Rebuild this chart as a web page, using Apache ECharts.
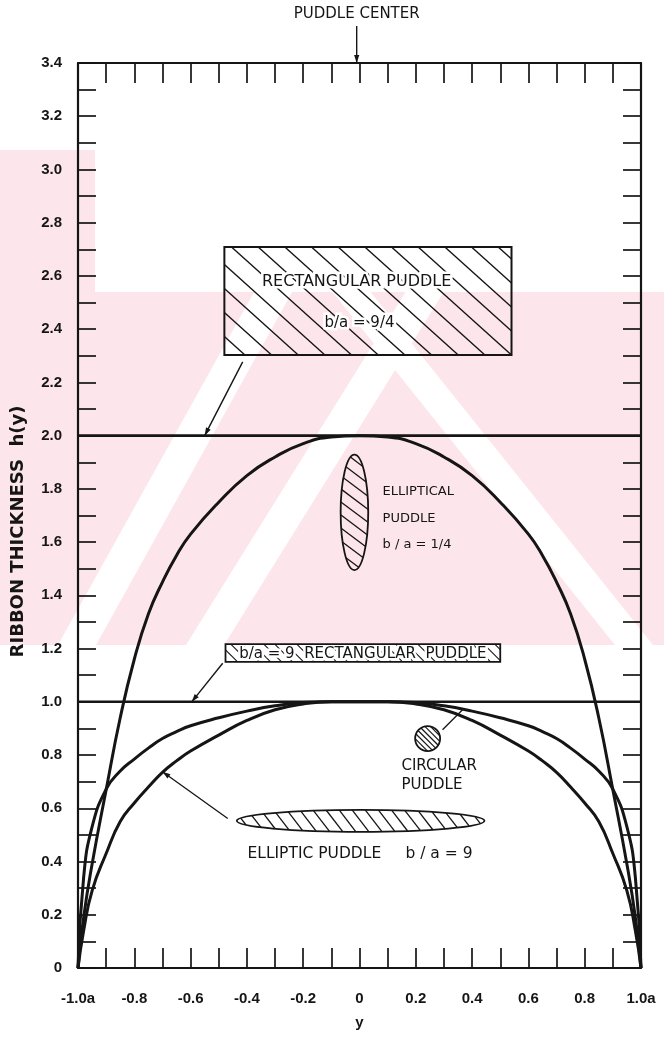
<!DOCTYPE html>
<html>
<head>
<meta charset="utf-8">
<title>Ribbon thickness profiles</title>
<script src="https://cdn.jsdelivr.net/npm/echarts@6.0.0/dist/echarts.min.js"></script>
<style>
  html, body { margin: 0; padding: 0; background: #ffffff; }
  #chart { width: 664px; height: 1056px; }
</style>
</head>
<body>
<div id="chart"></div>
<script>
// Printed tick positions and their labels
const xTickValues = [-1.0, -0.8, -0.6, -0.4, -0.2, 0, 0.2, 0.4, 0.6, 0.8, 1.0];
const xTickLabels = ['-1.0a', '-0.8', '-0.6', '-0.4', '-0.2', '0', '0.2', '0.4', '0.6', '0.8', '1.0a'];
const yTickValues = [0, 0.2, 0.4, 0.6, 0.8, 1.0, 1.2, 1.4, 1.6, 1.8, 2.0, 2.2, 2.4, 2.6, 2.8, 3.0, 3.2, 3.4];
const yTickLabels = ['0', '0.2', '0.4', '0.6', '0.8', '1.0', '1.2', '1.4', '1.6', '1.8', '2.0', '2.2', '2.4', '2.6', '2.8', '3.0', '3.2', '3.4'];

// Position across the ribbon (in units of a)
const yPositions = [-1.0, -0.98, -0.95, -0.9, -0.85, -0.8, -0.75, -0.7, -0.65, -0.6, -0.5, -0.4, -0.3, -0.2, -0.1, 0,
                    0.1, 0.2, 0.3, 0.4, 0.5, 0.6, 0.65, 0.7, 0.75, 0.8, 0.85, 0.9, 0.95, 0.98, 1.0];
// Ribbon thickness h(y) for each puddle shape
const hEllipticalQuarter = [0, 0.19, 0.39, 0.67, 0.94, 1.16, 1.33, 1.45, 1.55, 1.63, 1.75, 1.85, 1.92, 1.97, 1.995, 2.0,
                            1.995, 1.97, 1.92, 1.85, 1.75, 1.63, 1.55, 1.45, 1.33, 1.16, 0.94, 0.67, 0.39, 0.19, 0];
const hCircular = [0, 0.34, 0.53, 0.672, 0.74, 0.785, 0.826, 0.862, 0.888, 0.91, 0.94, 0.965, 0.985, 0.997, 1.0, 1.0,
                   1.0, 0.997, 0.985, 0.965, 0.94, 0.91, 0.888, 0.862, 0.826, 0.785, 0.74, 0.672, 0.53, 0.34, 0];
const hEllipticNine = [0, 0.14, 0.29, 0.43, 0.55, 0.62, 0.68, 0.735, 0.778, 0.815, 0.875, 0.93, 0.97, 0.992, 1.0, 1.0,
                       1.0, 0.992, 0.97, 0.93, 0.875, 0.815, 0.778, 0.735, 0.68, 0.62, 0.55, 0.43, 0.29, 0.14, 0];
// Rectangular puddles give a flat profile across the whole width
const rectSpan = [-1.0, 1.0];
const hRectNineQuarters = [2.0, 2.0];
const hRectNine = [1.0, 1.0];

const INK = '#151515';
const WATERMARK = '#fde6eb';
const LETTER_FONT = '"DejaVu Sans", sans-serif';
const NUM_FONT = '"Liberation Sans", "DejaVu Sans Condensed", sans-serif';

function labelFor(values, labels, v) {
  for (let i = 0; i < values.length; i++) {
    if (Math.abs(values[i] - v) < 1e-6) return labels[i];
  }
  return '';
}

function pairs(xs, ys) { return xs.map((x, i) => [x, ys[i]]); }

// Diagonal hatch lines y = k*x + c clipped to a rectangle (screen coordinates)
function hatchRect(L, T, R, B, k, step, width) {
  const out = [];
  const cMin = T - k * R, cMax = B - k * L;
  for (let c = cMin + step / 2; c < cMax; c += step) {
    const xa = Math.max(L, (T - c) / k), xb = Math.min(R, (B - c) / k);
    if (xb - xa > 0.5) {
      out.push({ type: 'line', shape: { x1: xa, y1: k * xa + c, x2: xb, y2: k * xb + c },
                 style: { stroke: INK, lineWidth: width } });
    }
  }
  return out;
}

// Diagonal hatch lines clipped to an ellipse (screen coordinates)
function hatchEllipse(cx, cy, rx, ry, k, step, width) {
  const out = [];
  const D = Math.sqrt(ry * ry + k * k * rx * rx);
  const A = 1 / (rx * rx) + k * k / (ry * ry);
  for (let d = -D + step / 2; d < D; d += step) {
    const Bq = 2 * k * d / (ry * ry), Cq = d * d / (ry * ry) - 1;
    const disc = Bq * Bq - 4 * A * Cq;
    if (disc <= 0) continue;
    const s = Math.sqrt(disc);
    const u1 = (-Bq - s) / (2 * A), u2 = (-Bq + s) / (2 * A);
    out.push({ type: 'line',
      shape: { x1: cx + u1, y1: cy + k * u1 + d, x2: cx + u2, y2: cy + k * u2 + d },
      style: { stroke: INK, lineWidth: width } });
  }
  return out;
}

// Text with a white halo so hatching breaks around the letters
function haloText(text, p, align, size) {
  const font = (size || 14) + 'px ' + LETTER_FONT;
  return [
    { type: 'text', x: p[0], y: p[1], style: { text, font, fill: '#fff', stroke: '#fff', lineWidth: 5,
      align: align, verticalAlign: 'middle' } },
    { type: 'text', x: p[0], y: p[1], style: { text, font, fill: INK, align: align, verticalAlign: 'middle' } }
  ];
}

function plainText(text, p, align, size, weight) {
  return { type: 'text', x: p[0], y: p[1],
    style: { text, font: (weight ? weight + ' ' : '') + (size || 14) + 'px ' + LETTER_FONT, fill: INK,
             align: align || 'left', verticalAlign: 'middle' } };
}

// Leader line, optionally ending in a small filled arrowhead at p2
function leader(p1, p2, width, head) {
  const dx = p2[0] - p1[0], dy = p2[1] - p1[1];
  const len = Math.sqrt(dx * dx + dy * dy);
  const ux = dx / len, uy = dy / len;
  const hl = 8, hw = 2.6;
  const bx = p2[0] - ux * hl, by = p2[1] - uy * hl;
  const parts = [
    { type: 'line', shape: { x1: p1[0], y1: p1[1], x2: p2[0], y2: p2[1] }, style: { stroke: INK, lineWidth: width || 1.4 } }
  ];
  if (head !== false) {
    parts.push({ type: 'polygon', shape: { points: [[p2[0], p2[1]], [bx - uy * hw, by + ux * hw], [bx + uy * hw, by - ux * hw]] },
      style: { fill: INK } });
  }
  return parts;
}

function annotation(render) {
  return {
    type: 'custom', xAxisIndex: 0, yAxisIndex: 0, data: [[0, 0]], silent: true, clip: false, z: 6,
    renderItem: (params, api) => ({ type: 'group', children: render(api) })
  };
}

// Pale pink watermark band behind the figure, crossed by white diagonal gaps
function watermark() {
  const top = 150, cut = 292, bottom = 645, w = 38;
  const gap = (xt, xb) => ({ type: 'polygon', silent: true,
    shape: { points: [[xt - w / 2, top], [xt + w / 2, top], [xb + w / 2, bottom], [xb - w / 2, bottom]] },
    style: { fill: '#ffffff' } });
  return {
    type: 'group', z: -10, silent: true,
    children: [
      { type: 'polygon', silent: true,
        shape: { points: [[0, top], [95, top], [95, cut], [664, cut], [664, bottom], [0, bottom]] },
        style: { fill: WATERMARK } },
      gap(352, 77), gap(513, 205), gap(238, 634),
      { type: 'rect', silent: true, shape: { x: 0, y: bottom, width: 664, height: 40 }, style: { fill: '#ffffff' } },
      { type: 'rect', silent: true, shape: { x: 95, y: top - 40, width: 569, height: cut - top + 40 }, style: { fill: '#ffffff' } }
    ]
  };
}

const chart = echarts.init(document.getElementById('chart'), null, { renderer: 'canvas' });

const tickStyle = (len) => ({ show: true, inside: true, length: len, lineStyle: { color: INK, width: 1.7 } });
const axisLineStyle = { show: true, onZero: false, lineStyle: { color: INK, width: 2.2 } };
const numLabel = { color: INK, fontFamily: NUM_FONT, fontSize: 15, fontWeight: 'bold' };

const curveStyle = { color: INK, width: 3 };

const option = {
  backgroundColor: '#ffffff',
  animation: false,
  graphic: [watermark()],
  grid: { left: 78, right: 23, top: 63, bottom: 88, containLabel: false },
  xAxis: [
    {
      type: 'value', position: 'bottom', min: -1, max: 1, interval: 0.1,
      axisLine: axisLineStyle, axisTick: tickStyle(20), splitLine: { show: false },
      axisLabel: Object.assign({ margin: 23, showMinLabel: true, showMaxLabel: true,
        formatter: v => labelFor(xTickValues, xTickLabels, v) }, numLabel),
      name: 'y', nameLocation: 'middle', nameGap: 47,
      nameTextStyle: { color: INK, fontFamily: NUM_FONT, fontSize: 15, fontWeight: 'bold' }
    },
    {
      type: 'value', position: 'top', min: -1, max: 1, interval: 0.1,
      axisLine: axisLineStyle, axisTick: tickStyle(20), splitLine: { show: false },
      axisLabel: { show: false }
    }
  ],
  yAxis: [
    {
      type: 'value', position: 'left', min: 0, max: 3.4, interval: 0.1,
      axisLine: axisLineStyle, axisTick: tickStyle(18), splitLine: { show: false },
      axisLabel: Object.assign({ margin: 16, formatter: v => labelFor(yTickValues, yTickLabels, v) }, numLabel)
    },
    {
      type: 'value', position: 'right', min: 0, max: 3.4, interval: 0.1,
      axisLine: axisLineStyle, axisTick: tickStyle(18), splitLine: { show: false },
      axisLabel: { show: false }
    }
  ],
  series: [
    { name: 'Rectangular b/a = 9/4', type: 'line', data: pairs(rectSpan, hRectNineQuarters),
      showSymbol: false, lineStyle: { color: INK, width: 2.6 }, z: 3 },
    { name: 'Rectangular b/a = 9', type: 'line', data: pairs(rectSpan, hRectNine),
      showSymbol: false, lineStyle: { color: INK, width: 2.6 }, z: 3 },
    { name: 'Elliptical b/a = 1/4', type: 'line', data: pairs(yPositions, hEllipticalQuarter),
      showSymbol: false, smooth: 0.5, lineStyle: curveStyle, z: 3 },
    { name: 'Circular', type: 'line', data: pairs(yPositions, hCircular),
      showSymbol: false, smooth: 0.5, lineStyle: curveStyle, z: 3 },
    { name: 'Elliptic b/a = 9', type: 'line', data: pairs(yPositions, hEllipticNine),
      showSymbol: false, smooth: 0.5, lineStyle: curveStyle, z: 3 },

    // Vertical axis title
    annotation(api => {
      const p = api.coord([-1, 1.64]);
      return [{ type: 'text', x: p[0] - 60, y: p[1], rotation: Math.PI / 2,
        style: { text: 'RIBBON THICKNESS  h(y)', font: 'bold 18px ' + LETTER_FONT, fill: INK,
                 align: 'center', verticalAlign: 'middle' } }];
    }),

    // Puddle centre marker above the top axis
    annotation(api => {
      const p = api.coord([-0.01, 3.4]);
      return [
        plainText('PUDDLE CENTER', [p[0], p[1] - 49], 'center', 15),
        ...leader([p[0], p[1] - 37], [p[0], p[1]], 1.4)
      ];
    }),

    // Rectangular puddle, b/a = 9/4
    annotation(api => {
      const tl = api.coord([-0.48, 2.709]), br = api.coord([0.54, 2.303]);
      return [
        ...hatchRect(tl[0], tl[1], br[0], br[1], 0.9, 24, 1.4),
        ...haloText('RECTANGULAR PUDDLE', api.coord([-0.01, 2.577]), 'center', 16),
        ...haloText('b/a = 9/4', api.coord([0.0, 2.423]), 'center', 15),
        { type: 'rect', shape: { x: tl[0], y: tl[1], width: br[0] - tl[0], height: br[1] - tl[1] },
          style: { fill: null, stroke: INK, lineWidth: 2 } },
        ...leader(api.coord([-0.415, 2.277]), api.coord([-0.55, 2.0]), 1.4)
      ];
    }),

    // Elliptical puddle, b/a = 1/4
    annotation(api => {
      const c = api.coord([-0.018, 1.712]);
      const rx = Math.abs(api.coord([0.031, 1.712])[0] - c[0]);
      const ry = Math.abs(api.coord([-0.018, 1.929])[1] - c[1]);
      return [
        ...hatchEllipse(c[0], c[1], rx, ry, 0.75, 13, 1.3),
        { type: 'ellipse', shape: { cx: c[0], cy: c[1], rx, ry }, style: { fill: null, stroke: INK, lineWidth: 1.8 } },
        plainText('ELLIPTICAL', api.coord([0.082, 1.79]), 'left', 13),
        plainText('PUDDLE', api.coord([0.082, 1.69]), 'left', 13),
        plainText('b / a = 1/4', api.coord([0.082, 1.592]), 'left', 13)
      ];
    }),

    // Rectangular puddle, b/a = 9
    annotation(api => {
      const tl = api.coord([-0.476, 1.217]), br = api.coord([0.50, 1.15]);
      return [
        ...hatchRect(tl[0], tl[1], br[0], br[1], 1.0, 11, 1.1),
        ...haloText('b/a = 9  RECTANGULAR  PUDDLE', [(tl[0] + br[0]) / 2, (tl[1] + br[1]) / 2 + 1], 'center', 15),
        { type: 'rect', shape: { x: tl[0], y: tl[1], width: br[0] - tl[0], height: br[1] - tl[1] },
          style: { fill: null, stroke: INK, lineWidth: 1.8 } },
        ...leader(api.coord([-0.486, 1.145]), api.coord([-0.596, 1.0]), 1.4)
      ];
    }),

    // Circular puddle
    annotation(api => {
      const c = api.coord([0.242, 0.862]);
      const r = 12.5;
      return [
        ...hatchEllipse(c[0], c[1], r, r, 1.0, 5.5, 1.2),
        { type: 'circle', shape: { cx: c[0], cy: c[1], r }, style: { fill: null, stroke: INK, lineWidth: 1.8 } },
        ...leader(api.coord([0.295, 0.895]), api.coord([0.366, 0.97]), 1.3, false),
        plainText('CIRCULAR', api.coord([0.149, 0.759]), 'left', 15),
        plainText('PUDDLE', api.coord([0.149, 0.688]), 'left', 15)
      ];
    }),

    // Elliptic puddle, b/a = 9
    annotation(api => {
      const c = api.coord([0.004, 0.553]);
      const rx = Math.abs(api.coord([0.444, 0.553])[0] - c[0]);
      const ry = 11;
      return [
        ...hatchEllipse(c[0], c[1], rx, ry, 1.3, 17, 1.3),
        { type: 'ellipse', shape: { cx: c[0], cy: c[1], rx, ry }, style: { fill: null, stroke: INK, lineWidth: 1.8 } },
        plainText('ELLIPTIC PUDDLE', api.coord([-0.398, 0.43]), 'left', 15.5),
        plainText('b / a = 9', api.coord([0.163, 0.43]), 'left', 15.5),
        ...leader(api.coord([-0.468, 0.562]), api.coord([-0.70, 0.737]), 1.3)
      ];
    })
  ]
};

chart.setOption(option);
</script>
</body>
</html>
